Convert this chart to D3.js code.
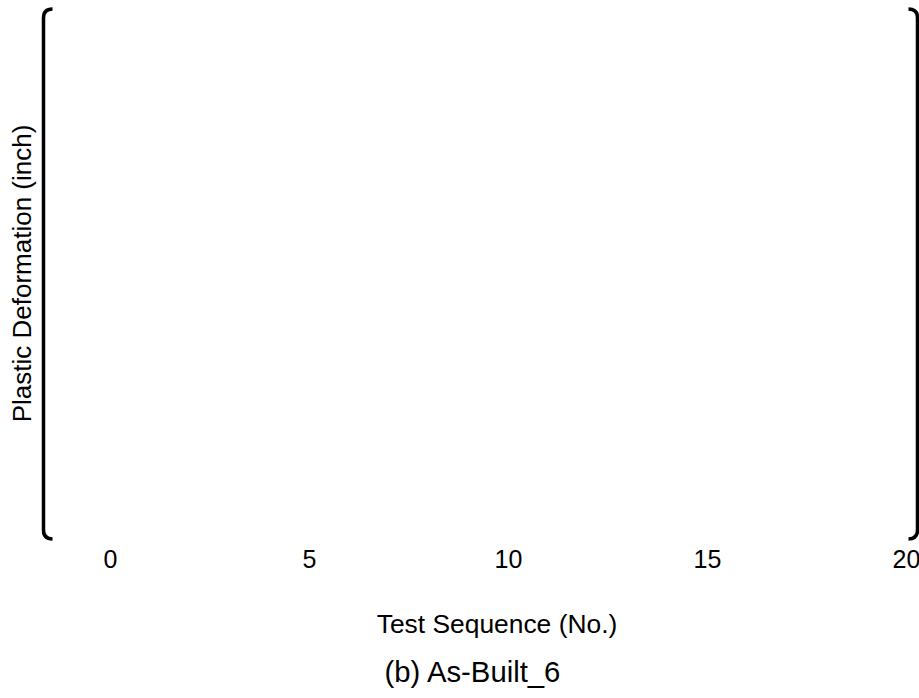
<!DOCTYPE html>
<html>
<head>
<meta charset="utf-8">
<script src="https://cdn.jsdelivr.net/npm/d3@7"></script>
<style>
  html, body { margin: 0; padding: 0; background: #fff; }
  svg { display: block; }
  text { font-family: "Liberation Sans", Arial, sans-serif; fill: #000; }
</style>
</head>
<body>
<svg id="chart" width="919" height="698"></svg>
<script>
// Chart content
const xDomain = [0, 20];
const xTickValues = [0, 5, 10, 15, 20];
const xTitle = "Test Sequence (No.)";
const yTitle = "Plastic Deformation (inch)";
const caption = "(b) As-Built_6";

const svg = d3.select("#chart");

// Plot frame (left / right rounded edges of the plot area)
const frame = { left: 43.5, right: 917.5, top: 9, bottom: 539, r: 9 };

const x = d3.scaleLinear().domain(xDomain).range([110, 906]);

function bracket(xEdge, dir) {
  // dir = +1 opens to the right, -1 opens to the left
  const r = frame.r;
  return `M${xEdge + dir * r},${frame.top}
          Q${xEdge},${frame.top} ${xEdge},${frame.top + r}
          L${xEdge},${frame.bottom - r}
          Q${xEdge},${frame.bottom} ${xEdge + dir * r},${frame.bottom}`;
}

svg.append("path").attr("d", bracket(frame.left, 1))
  .attr("fill", "none").attr("stroke", "#000").attr("stroke-width", 3.5);
svg.append("path").attr("d", bracket(frame.right, -1))
  .attr("fill", "none").attr("stroke", "#000").attr("stroke-width", 3.5);

// X axis tick labels (no axis line / tick marks)
const xAxis = d3.axisBottom(x).tickValues(xTickValues).tickSize(0).tickPadding(0);
const gx = svg.append("g").call(xAxis);
gx.select(".domain").remove();
gx.selectAll("text")
  .attr("dy", null)
  .attr("y", 568)
  .attr("font-family", "Liberation Sans, Arial, sans-serif")
  .attr("font-size", 25).attr("fill", "#000");

// Axis titles
svg.append("text")
  .attr("x", 497).attr("y", 633)
  .attr("text-anchor", "middle").attr("font-size", 26.4)
  .text(xTitle);

svg.append("text")
  .attr("transform", "translate(31,273.5) rotate(-90)")
  .attr("text-anchor", "middle").attr("font-size", 26)
  .text(yTitle);

svg.append("text")
  .attr("x", 472.5).attr("y", 682)
  .attr("text-anchor", "middle").attr("font-size", 29.3)
  .text(caption);
</script>
</body>
</html>
